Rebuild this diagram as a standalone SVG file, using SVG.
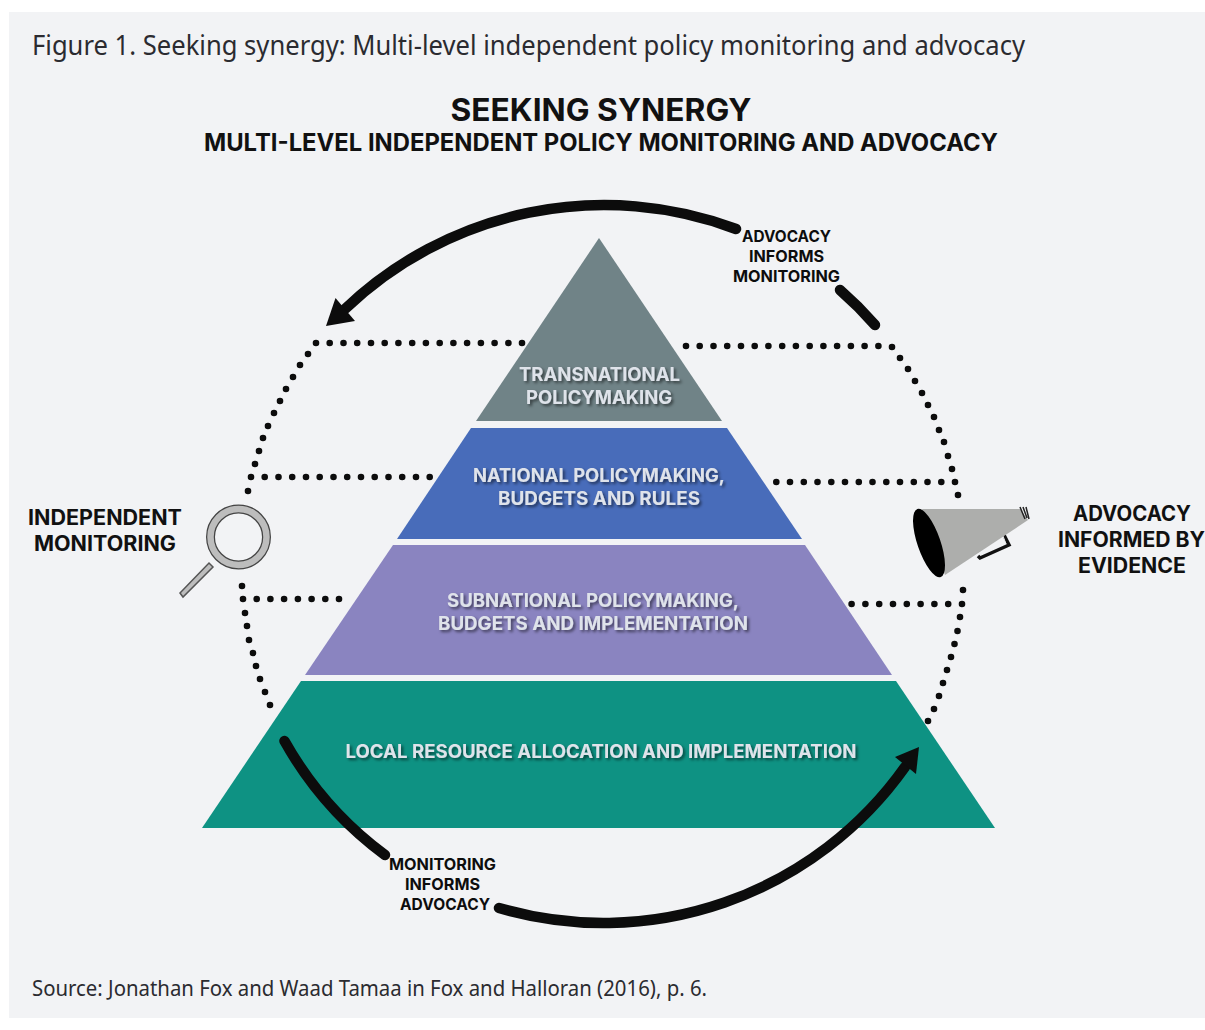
<svg xmlns="http://www.w3.org/2000/svg" width="1205" height="1030" viewBox="0 0 1205 1030">
<defs>
<style>
.cap{font-family:"Noto Sans","DejaVu Sans",sans-serif;fill:#2b2b30}
.h{font-family:"Inter","Liberation Sans",sans-serif;font-weight:700;fill:#111;text-anchor:middle}
.s{font-family:"Inter","Liberation Sans",sans-serif;font-weight:700;fill:#0d0d0d;text-anchor:middle;font-size:16px}
.p{font-family:"Inter","Liberation Sans",sans-serif;font-weight:700;fill:#dfe3ea;text-anchor:middle;font-size:18.5px;filter:url(#sh)}
.dot{fill:none;stroke:#0c0c0c;stroke-width:6.6;stroke-linecap:round}
.arc{fill:none;stroke:#0c0c0c;stroke-width:10.5;stroke-linecap:round}
</style>
<filter id="sh" x="-5%" y="-20%" width="110%" height="150%"><feDropShadow dx="2" dy="2" stdDeviation="1.5" flood-color="#000" flood-opacity=".55"/></filter>
</defs>
<rect x="0" y="0" width="1205" height="1030" fill="#fff"/>
<rect x="9" y="12" width="1196" height="1006" fill="#f2f3f5"/>
<text class="cap" x="32" y="55" font-size="27" textLength="993" lengthAdjust="spacingAndGlyphs">Figure 1. Seeking synergy: Multi-level independent policy monitoring and advocacy</text>
<text class="h" x="601" y="121" font-size="31" textLength="301" lengthAdjust="spacingAndGlyphs">SEEKING SYNERGY</text>
<text class="h" x="601" y="151" font-size="24" textLength="794" lengthAdjust="spacingAndGlyphs">MULTI-LEVEL INDEPENDENT POLICY MONITORING AND ADVOCACY</text>
<g id="level-transnational">
<path d="M599 238L722 421H476Z" fill="#708387"/>
<text class="p" x="599.500" y="381" textLength="161" lengthAdjust="spacingAndGlyphs">TRANSNATIONAL</text><text class="p" x="599" y="404" textLength="146" lengthAdjust="spacingAndGlyphs">POLICYMAKING</text>
</g>
<g id="level-national">
<path d="M471 428H727L802 539H397Z" fill="#486cba"/>
<text class="p" x="599" y="482" textLength="252" lengthAdjust="spacingAndGlyphs">NATIONAL POLICYMAKING,</text><text class="p" x="599" y="505" textLength="202" lengthAdjust="spacingAndGlyphs">BUDGETS AND RULES</text>
</g>
<g id="level-subnational">
<path d="M393 545H805L892 675H305Z" fill="#8a84c0"/>
<text class="p" x="593" y="606.500" textLength="292" lengthAdjust="spacingAndGlyphs">SUBNATIONAL POLICYMAKING,</text><text class="p" x="593" y="629.500" textLength="310" lengthAdjust="spacingAndGlyphs">BUDGETS AND IMPLEMENTATION</text>
</g>
<g id="level-local">
<path d="M301 681H896L995 828H202Z" fill="#0e9283"/>
<text class="p" x="601" y="758" textLength="511" lengthAdjust="spacingAndGlyphs">LOCAL RESOURCE ALLOCATION AND IMPLEMENTATION</text>
</g>
<g id="connectors">
<path class="dot" d="M316 343h0M329.700 343h0M343.500 343h0M357.200 343h0M371 343h0M384.700 343h0M398.400 343h0M412.200 343h0M425.900 343h0M439.700 343h0M453.400 343h0M467.100 343h0M480.900 343h0M494.600 343h0M508.400 343h0M522 343h0M308 354h0M300 365h0M293 377h0M286 389h0M280 401h0M274 413h0M268 426h0M263 438h0M259 451h0M255 464h0M248 491h0"/>
<path class="dot" d="M251 477h0M264.700 477h0M278.500 477h0M292.200 477h0M306 477h0M319.700 477h0M333.500 477h0M347.200 477h0M361 477h0M374.700 477h0M388.500 477h0M402.200 477h0M416 477h0M429.700 477h0"/>
<path class="dot" d="M243 599h0M256.700 599h0M270.400 599h0M284.100 599h0M297.900 599h0M311.600 599h0M325.300 599h0M339 599h0"/>
<path class="dot" d="M242 586h0M245 613h0M247 626h0M249 640h0M253 653h0M256 666h0M260 679h0M265 692h0M270 705h0"/>
<path class="dot" d="M686 346h0M699.700 346h0M713.500 346h0M727.200 346h0M741 346h0M754.700 346h0M768.400 346h0M782.200 346h0M795.900 346h0M809.700 346h0M823.400 346h0M837.100 346h0M850.900 346h0M864.600 346h0M878.400 346h0M892 347h0M900 358h0M908 369h0M915 381h0M922 393h0M928 405h0M934 417h0M939 430h0M944 442h0M948 456h0M952 469h0M958 495h0"/>
<path class="dot" d="M955 482h0M941.300 482h0M927.500 482h0M913.800 482h0M900 482h0M886.300 482h0M872.500 482h0M858.800 482h0M845 482h0M831.300 482h0M817.500 482h0M803.800 482h0M790 482h0M776.300 482h0"/>
<path class="dot" d="M962 604h0M948.200 604h0M934.400 604h0M920.600 604h0M906.800 604h0M893 604h0M879.200 604h0M865.400 604h0M851.600 604h0"/>
<path class="dot" d="M963 590h0M960 617h0M957.500 631h0M954.500 644h0M951 657h0M947 670h0M943 683h0M939 696h0M934 709h0M928 721h0"/>
<path class="arc" d="M736 229A375 375 0 0 0 345 309"/>
<path d="M326 326L335.500 298L355 321Z" fill="#0c0c0c"/>
<path class="arc" d="M840 290A362 362 0 0 1 875 325"/>
<path class="arc" d="M284.500 741A362 362 0 0 0 385 855"/>
<path class="arc" d="M499 908A370 370 0 0 0 905 767"/>
<path d="M919 747L916 774L895 757Z" fill="#0c0c0c"/>
</g>
<g id="label-advocacy-informs">
<text class="s" x="786.500" y="242" textLength="89" lengthAdjust="spacingAndGlyphs">ADVOCACY</text><text class="s" x="786.500" y="262" textLength="75" lengthAdjust="spacingAndGlyphs">INFORMS</text><text class="s" x="786.500" y="282" textLength="107" lengthAdjust="spacingAndGlyphs">MONITORING</text>
</g>
<g id="label-monitoring-informs">
<text class="s" x="442.500" y="870" textLength="107" lengthAdjust="spacingAndGlyphs">MONITORING</text><text class="s" x="442.500" y="890" textLength="75" lengthAdjust="spacingAndGlyphs">INFORMS</text><text class="s" x="445" y="910" textLength="90" lengthAdjust="spacingAndGlyphs">ADVOCACY</text>
</g>
<g id="independent-monitoring">
<text class="h" x="105" y="525" font-size="21" textLength="154" lengthAdjust="spacingAndGlyphs">INDEPENDENT</text><text class="h" x="105" y="551" font-size="21" textLength="142" lengthAdjust="spacingAndGlyphs">MONITORING</text>
<circle cx="238.500" cy="537" r="28" fill="none" stroke="#444" stroke-width="9"/>
<circle cx="238.500" cy="537" r="28" fill="none" stroke="#bdbdbd" stroke-width="6.500"/>
<path d="M180 593L209 563L213 567L183 597Z" fill="#bdbdbd" stroke="#555" stroke-width="1.500"/>
</g>
<g id="advocacy-informed">
<text class="h" x="1132" y="521" font-size="21" textLength="118" lengthAdjust="spacingAndGlyphs">ADVOCACY</text><text class="h" x="1131.500" y="547" font-size="21" textLength="147" lengthAdjust="spacingAndGlyphs">INFORMED BY</text><text class="h" x="1132" y="573" font-size="21" textLength="108" lengthAdjust="spacingAndGlyphs">EVIDENCE</text>
<path d="M978 556L980 558L1009 545L1004 535" fill="none" stroke="#111" stroke-width="3.500"/>
<path d="M1006 544L1003 536" fill="none" stroke="#e8e9ea" stroke-width="1"/>
<path d="M922 509L1020 509L1028 520L945 575Z" fill="#adaeac"/>
<ellipse cx="929" cy="543" rx="11.500" ry="36" transform="rotate(-19 929 543)" fill="#000"/>
<path d="M1020 507L1025 519M1023 507L1027 518M1026 507L1029 519" stroke="#222" stroke-width="1.500" fill="none"/>
</g>
<text class="cap" x="32" y="996" font-size="21" textLength="675" lengthAdjust="spacingAndGlyphs">Source: Jonathan Fox and Waad Tamaa in Fox and Halloran (2016), p. 6.</text>
</svg>
